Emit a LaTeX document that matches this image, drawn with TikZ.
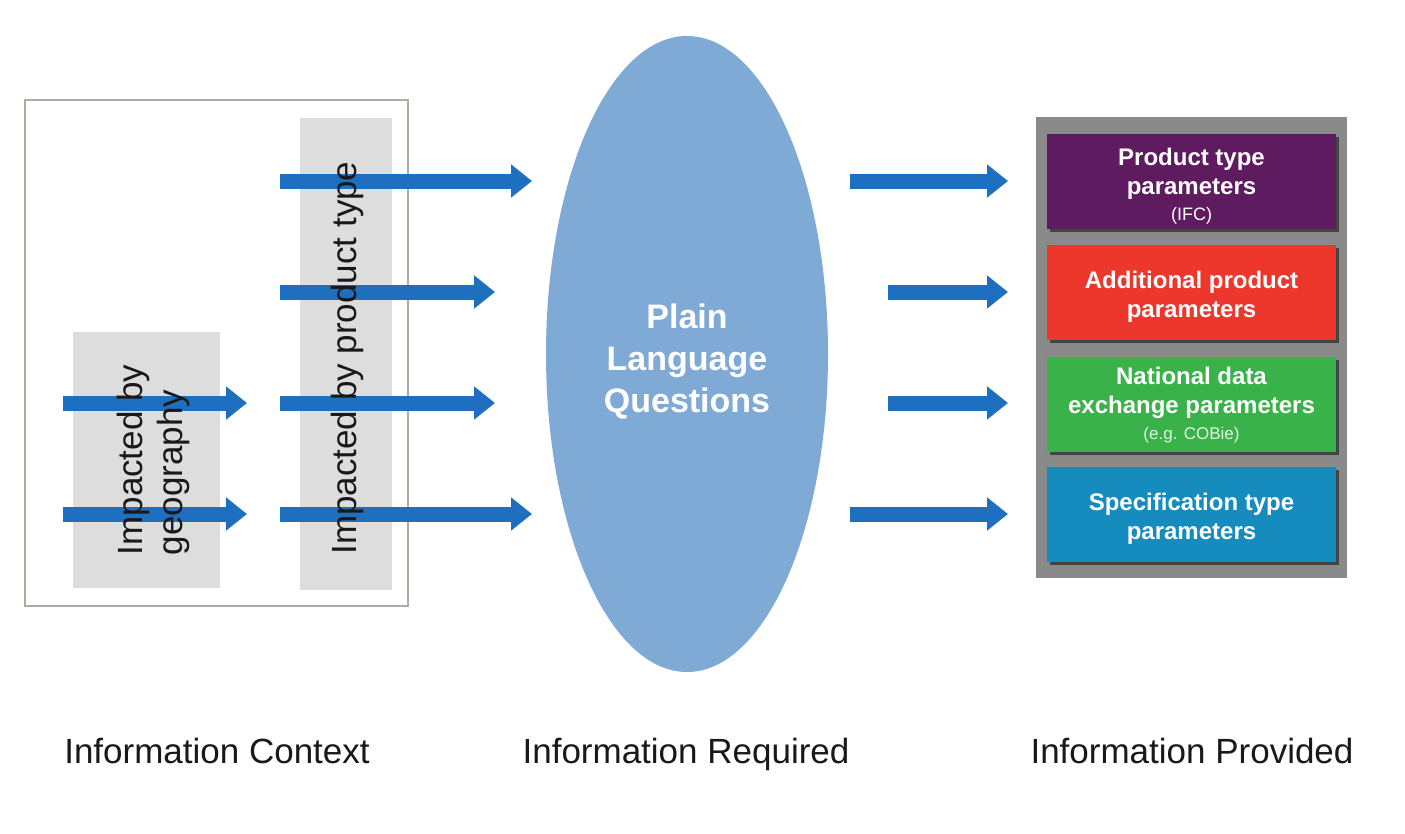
\documentclass[tikz,border=0pt]{standalone}
\usepackage{fontspec}
\setmainfont{Liberation Sans}
\usetikzlibrary{arrows.meta,shadows,shapes.geometric}
\definecolor{arrowblue}{RGB}{31,111,192}
\definecolor{ellblue}{RGB}{128,170,214}
\definecolor{panelgrey}{RGB}{138,138,138}
\definecolor{lightgrey}{RGB}{221,221,221}
\definecolor{framegrey}{RGB}{176,170,165}
\definecolor{cpurple}{RGB}{94,27,96}
\definecolor{cred}{RGB}{237,55,45}
\definecolor{cgreen}{RGB}{57,178,74}
\definecolor{cblue}{RGB}{22,140,190}
\definecolor{txt}{RGB}{25,25,25}
\begin{document}
\begin{tikzpicture}[x=1pt,y=-1pt,
  bigarrow/.style={draw=arrowblue, line width=15pt, -{Triangle[length=21pt,width=32pt]}},
  greybox/.style={fill=lightgrey, draw=none, inner sep=0pt},
  framebox/.style={draw=framegrey, line width=1.2pt, inner sep=0pt},
  sidetext/.style={rotate=90, text=txt, font=\fontsize{35}{40}\selectfont, align=left, inner sep=0pt},
  paramsbox/.style={minimum width=289pt, minimum height=95pt, inner sep=0pt,
     drop shadow={shadow xshift=3pt, shadow yshift=-3pt, opacity=0.5, fill=black}},
  paramstext/.style={inner sep=0pt, text=white, align=center, font=\bfseries\fontsize{24}{29}\selectfont},
  label/.style={anchor=base, text=txt, font=\fontsize{35}{40}\selectfont, inner sep=0pt}]
\path[use as bounding box, fill=white] (0,0) rectangle (1405,833);
% left context frame and grey bands
\node[framebox, minimum width=383pt, minimum height=506pt] (ctx) at (216.5,353) {};
\node[greybox, minimum width=147pt, minimum height=256pt] (geo) at (146.5,460) {};
\node[greybox, minimum width=92pt, minimum height=472pt] (prod) at (346,354) {};
% arrows
\foreach \n/\xs/\xe/\yy in {1/280/532/181, 2/280/495/292, 3/280/495/403, 4/280/532/514,
                            5/63/247/403, 6/63/247/514,
                            7/850/1008/181, 8/888/1008/292, 9/888/1008/403, 10/850/1008/514}{
  \coordinate (s\n) at (\xs,\yy);
  \coordinate (e\n) at (\xe,\yy);
  \draw[bigarrow] (s\n) -- (e\n);
}
% rotated texts
\node[sidetext] (geotxt) at (153,460) {Impacted by\\geography};
\node[sidetext] (prodtxt) at (347,358) {Impacted by product type};
% ellipse
\node[ellipse, fill=ellblue, draw=none, minimum width=282pt, minimum height=636pt, inner sep=0pt] (plain) at (687,354) {};
\node[text=white, align=center, font=\bfseries\fontsize{34}{42}\selectfont, inner sep=0pt] (plaintxt) at (687,362) {Plain\\Language\\Questions};
% right panel
\node[fill=panelgrey, minimum width=311pt, minimum height=461pt, inner sep=0pt] (panel) at (1191.5,347.5) {};
\node[paramsbox, fill=cpurple] (b1) at (1191.5,181.5) {};
\node[paramsbox, fill=cred] (b2) at (1191.5,292.5) {};
\node[paramsbox, fill=cgreen] (b3) at (1191.5,404) {};
\node[paramsbox, fill=cblue] (b4) at (1191.5,514.5) {};
\node[paramstext] (t1) at ([yshift=-5pt]b1.center) {Product type\\parameters\\[-3pt]{\mdseries\fontsize{18}{22}\selectfont (IFC)}};
\node[paramstext] (t2) at ([yshift=-4pt]b2.center) {Additional product\\parameters};
\node[paramstext] (t3) at ([yshift=-1pt]b3.center) {National data\\exchange parameters\\[-3pt]{\mdseries\fontsize{17}{22}\selectfont\color{white!85!cgreen}(e.g. COBie)}};
\node[paramstext] (t4) at ([yshift=-4pt]b4.center) {Specification type\\parameters};
% bottom labels
\node[label] (l1) at (217,763) {Information Context};
\node[label] (l2) at (686,763) {Information Required};
\node[label] (l3) at (1192,763) {Information Provided};
\end{tikzpicture}
\end{document}
